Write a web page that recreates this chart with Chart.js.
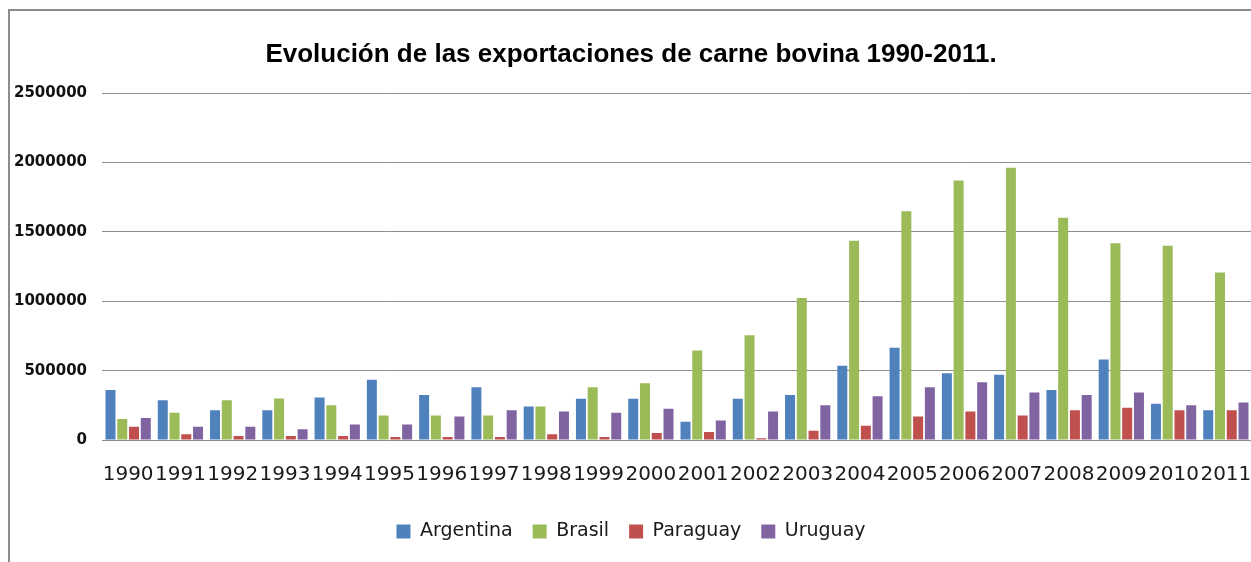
<!DOCTYPE html>
<html>
<head>
<meta charset="utf-8">
<script src="https://cdn.jsdelivr.net/npm/chart.js@4"></script>
<style>
  html, body { margin: 0; padding: 0; background: #fff; overflow: hidden; }
  .frame {
    position: absolute;
    left: 8px;
    top: 9px;
    width: 1260px;
    height: 560px;
    border-top: 2px solid #8c8c8c;
    border-left: 2px solid #8c8c8c;
  }
  .frame canvas { display: block; }
</style>
</head>
<body>
<div class="frame"><canvas id="beefChart" width="1260" height="560"></canvas></div>
<script>
const years = ["1990", "1991", "1992", "1993", "1994", "1995", "1996", "1997", "1998", "1999", "2000",
  "2001", "2002", "2003", "2004", "2005", "2006", "2007", "2008", "2009", "2010", "2011"];

const argentina = [361000, 287000, 215000, 215000, 306000, 435000, 325000, 380000, 242000, 297000, 297000,
  132000, 297000, 325000, 536000, 665000, 481000, 471000, 361000, 581000, 261000, 215000];
const brasil = [151000, 196000, 287000, 299000, 251000, 177000, 177000, 177000, 242000, 380000, 409000,
  646000, 756000, 1024000, 1436000, 1649000, 1871000, 1962000, 1603000, 1419000, 1400000, 1208000];
const paraguay = [96000, 41000, 29000, 29000, 29000, 22000, 22000, 22000, 41000, 22000, 50000,
  57000, 12000, 67000, 103000, 170000, 206000, 177000, 215000, 232000, 215000, 215000];
const uruguay = [158000, 96000, 96000, 77000, 112000, 112000, 170000, 215000, 206000, 196000, 225000,
  141000, 206000, 251000, 316000, 380000, 416000, 342000, 325000, 342000, 251000, 270000];

const yTicks = [0, 500000, 1000000, 1500000, 2000000, 2500000];

const gridGray = "#8e8e8e";

const makeSet = (label, values, color) => ({
  label: label,
  data: values,
  backgroundColor: color,
  borderColor: color,
  borderWidth: 0,
  barPercentage: 0.85,
  categoryPercentage: 0.9,
});

const ctx = document.getElementById("beefChart").getContext("2d");

window.beefChart = new Chart(ctx, {
  type: "bar",
  data: {
    labels: years,
    datasets: [
      makeSet("Argentina", argentina, "#4f81bd"),
      makeSet("Brasil", brasil, "#9bbb59"),
      makeSet("Paraguay", paraguay, "#c0504d"),
      makeSet("Uruguay", uruguay, "#8064a2"),
    ],
  },
  options: {
    responsive: false,
    animation: false,
    layout: {
      padding: { left: 0, right: 18, top: 0, bottom: 20 },
    },
    scales: {
      x: {
        grid: { display: false },
        border: { display: true, color: gridGray, width: 1 },
        ticks: {
          autoSkip: false,
          maxRotation: 0,
          minRotation: 0,
          padding: 15,
          color: "#1a1a1a",
          font: { family: "'DejaVu Sans'", size: 20 },
        },
      },
      y: {
        min: 0,
        max: 2500000,
        afterBuildTicks: (axis) => {
          axis.ticks = yTicks.map((v) => ({ value: v }));
        },
        afterFit: (axis) => {
          axis.width = 92;
        },
        grid: {
          color: gridGray,
          lineWidth: 1,
          drawTicks: false,
        },
        border: { display: false },
        ticks: {
          padding: 15,
          color: "#111",
          font: { family: "'DejaVu Sans'", size: 15, weight: "bold" },
          callback: (value) => String(value),
        },
      },
    },
    plugins: {
      title: {
        display: true,
        text: "Evolución de las exportaciones de carne bovina 1990-2011.",
        color: "#000",
        padding: { top: 28, bottom: 23 },
        font: { family: "'Liberation Sans'", size: 26, weight: "bold" },
      },
      legend: {
        position: "bottom",
        labels: {
          boxWidth: 14,
          boxHeight: 14,
          padding: 20,
          color: "#1a1a1a",
          font: { family: "'DejaVu Sans'", size: 19 },
        },
      },
      tooltip: { enabled: false },
    },
  },
});
</script>
</body>
</html>
